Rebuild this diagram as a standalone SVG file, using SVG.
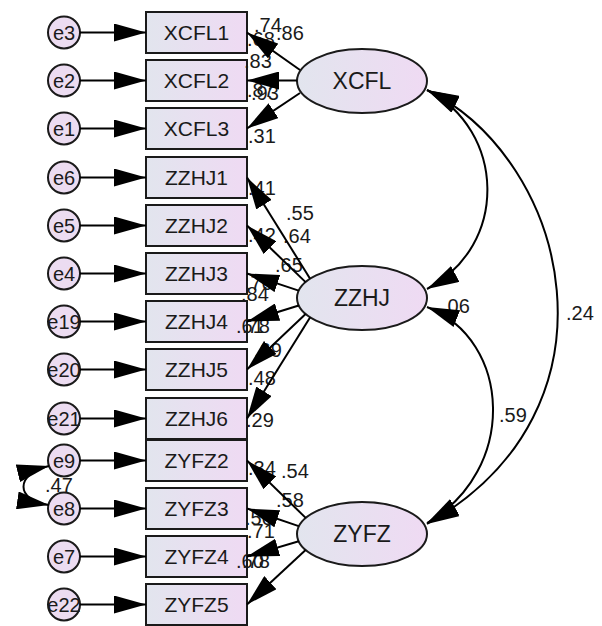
<svg xmlns="http://www.w3.org/2000/svg" width="602" height="626" viewBox="0 0 602 626">
<style>
text{font-family:"Liberation Sans",Arial,sans-serif;fill:#1a1a1a}
.box{fill:url(#g);stroke:#1a1a1a;stroke-width:2}
.lat{fill:url(#g);stroke:#1a1a1a;stroke-width:2}
.err{fill:#ecdcf1;stroke:#1a1a1a;stroke-width:2}
.bt{font-size:21px;text-anchor:middle}
.lt{font-size:23px;text-anchor:middle}
.et{font-size:20px;text-anchor:middle}
.n{font-size:20px}
.c path{fill:none;stroke:#000;stroke-width:2;marker-end:url(#ah)}
.c path.cov{marker-start:url(#ah)}
</style>
<defs>
<linearGradient id="g" x1="0" y1="0" x2="1" y2="0">
<stop offset="0" stop-color="#e2e5ee"/>
<stop offset="1" stop-color="#efdaf3"/>
</linearGradient>
<marker id="ah" viewBox="0 0 32 18" markerWidth="32" markerHeight="18" refX="32" refY="9" orient="auto-start-reverse" markerUnits="userSpaceOnUse">
<path d="M0,0 L32,9 L0,18 Z" fill="#000"/>
</marker>
</defs>
<rect width="602" height="626" fill="#fff"/>

<g id="XCFL1"><rect class="box" x="146" y="12" width="101" height="41"/><text class="bt" x="196.5" y="40">XCFL1</text></g>
<g id="XCFL2"><rect class="box" x="146" y="60" width="101" height="41"/><text class="bt" x="196.5" y="88">XCFL2</text></g>
<g id="XCFL3"><rect class="box" x="146" y="108" width="101" height="41"/><text class="bt" x="196.5" y="136">XCFL3</text></g>
<g id="ZZHJ1"><rect class="box" x="146" y="157" width="101" height="41"/><text class="bt" x="196.5" y="185">ZZHJ1</text></g>
<g id="ZZHJ2"><rect class="box" x="146" y="205" width="101" height="41"/><text class="bt" x="196.5" y="233">ZZHJ2</text></g>
<g id="ZZHJ3"><rect class="box" x="146" y="253" width="101" height="41"/><text class="bt" x="196.5" y="281">ZZHJ3</text></g>
<g id="ZZHJ4"><rect class="box" x="146" y="301" width="101" height="41"/><text class="bt" x="196.5" y="329">ZZHJ4</text></g>
<g id="ZZHJ5"><rect class="box" x="146" y="349" width="101" height="41"/><text class="bt" x="196.5" y="377">ZZHJ5</text></g>
<g id="ZZHJ6"><rect class="box" x="146" y="398" width="101" height="41"/><text class="bt" x="196.5" y="426">ZZHJ6</text></g>
<g id="ZYFZ2"><rect class="box" x="146" y="440" width="101" height="41"/><text class="bt" x="196.5" y="468">ZYFZ2</text></g>
<g id="ZYFZ3"><rect class="box" x="146" y="488" width="101" height="41"/><text class="bt" x="196.5" y="516">ZYFZ3</text></g>
<g id="ZYFZ4"><rect class="box" x="146" y="536" width="101" height="41"/><text class="bt" x="196.5" y="564">ZYFZ4</text></g>
<g id="ZYFZ5"><rect class="box" x="146" y="584" width="101" height="41"/><text class="bt" x="196.5" y="612">ZYFZ5</text></g>

<g id="e3"><circle class="err" cx="64" cy="32.5" r="16"/><text class="et" x="64" y="39.5">e3</text></g>
<g id="e2"><circle class="err" cx="64" cy="80.5" r="16"/><text class="et" x="64" y="87.5">e2</text></g>
<g id="e1"><circle class="err" cx="64" cy="128.5" r="16"/><text class="et" x="64" y="135.5">e1</text></g>
<g id="e6"><circle class="err" cx="64" cy="177.5" r="16"/><text class="et" x="64" y="184.5">e6</text></g>
<g id="e5"><circle class="err" cx="64" cy="225.5" r="16"/><text class="et" x="64" y="232.5">e5</text></g>
<g id="e4"><circle class="err" cx="64" cy="273.5" r="16"/><text class="et" x="64" y="280.5">e4</text></g>
<g id="e19"><circle class="err" cx="64" cy="321.5" r="16"/><text class="et" x="64" y="328.5">e19</text></g>
<g id="e20"><circle class="err" cx="64" cy="369.5" r="16"/><text class="et" x="64" y="376.5">e20</text></g>
<g id="e21"><circle class="err" cx="64" cy="418.5" r="16"/><text class="et" x="64" y="425.5">e21</text></g>
<g id="e9"><circle class="err" cx="64" cy="460.5" r="16"/><text class="et" x="64" y="467.5">e9</text></g>
<g id="e8"><circle class="err" cx="64" cy="508.5" r="16"/><text class="et" x="64" y="515.5">e8</text></g>
<g id="e7"><circle class="err" cx="64" cy="556.5" r="16"/><text class="et" x="64" y="563.5">e7</text></g>
<g id="e22"><circle class="err" cx="64" cy="604.5" r="16"/><text class="et" x="64" y="611.5">e22</text></g>

<g id="XCFL"><ellipse class="lat" cx="362" cy="81" rx="65" ry="32"/><text class="lt" x="362" y="89">XCFL</text></g>
<g id="ZZHJ"><ellipse class="lat" cx="362" cy="298" rx="65" ry="32"/><text class="lt" x="362" y="306">ZZHJ</text></g>
<g id="ZYFZ"><ellipse class="lat" cx="362" cy="534" rx="65" ry="32"/><text class="lt" x="362" y="542">ZYFZ</text></g>

<g id="labels" class="n">
<text class="n" x="254" y="32">.74</text>
<text class="n" x="276" y="40">.86</text>
<text class="n" x="247" y="46">.68</text>
<text class="n" x="244" y="68">.83</text>
<text class="n" x="247" y="97">.87</text>
<text class="n" x="251" y="100">.93</text>
<text class="n" x="248" y="143">.31</text>
<text class="n" x="248" y="195">.41</text>
<text class="n" x="286" y="220">.55</text>
<text class="n" x="248" y="242">.42</text>
<text class="n" x="283" y="243">.64</text>
<text class="n" x="275" y="272">.65</text>
<text class="n" x="245" y="290">.70</text>
<text class="n" x="241" y="301">.84</text>
<text class="n" x="236" y="333">.61</text>
<text class="n" x="242" y="333">.78</text>
<text class="n" x="254" y="357">.69</text>
<text class="n" x="248" y="385">.48</text>
<text class="n" x="246" y="427">.29</text>
<text class="n" x="248" y="475">.34</text>
<text class="n" x="281" y="478">.54</text>
<text class="n" x="276" y="507">.58</text>
<text class="n" x="245" y="525">.50</text>
<text class="n" x="247" y="538">.71</text>
<text class="n" x="236" y="568">.60</text>
<text class="n" x="242" y="568">.78</text>
<text class="n" x="45" y="492">.47</text>
<text class="n" x="442" y="313">.06</text>
<text class="n" x="499" y="422">.59</text>
<text class="n" x="566" y="320">.24</text>
</g>

<g id="connectors" class="c">
<path d="M80,32.5 L146,32.5"/>
<path d="M80,80.5 L146,80.5"/>
<path d="M80,128.5 L146,128.5"/>
<path d="M80,177.5 L146,177.5"/>
<path d="M80,225.5 L146,225.5"/>
<path d="M80,273.5 L146,273.5"/>
<path d="M80,321.5 L146,321.5"/>
<path d="M80,369.5 L146,369.5"/>
<path d="M80,418.5 L146,418.5"/>
<path d="M80,460.5 L146,460.5"/>
<path d="M80,508.5 L146,508.5"/>
<path d="M80,556.5 L146,556.5"/>
<path d="M80,604.5 L146,604.5"/>
<path d="M300,70 L247,32.5"/>
<path d="M297,80.5 L247,80.5"/>
<path d="M300,93 L247,128.5"/>
<path d="M310.1,278.7 L247,177.5"/>
<path d="M305.6,282.1 L247,225.5"/>
<path d="M298.7,290.6 L247,273.5"/>
<path d="M298.8,305.5 L247,321.5"/>
<path d="M305.6,313.9 L247,369.5"/>
<path d="M310.2,317.3 L247,418.5"/>
<path d="M305.7,517.9 L247,460.5"/>
<path d="M298.7,526.1 L247,508.5"/>
<path d="M298.8,541.2 L247,556.5"/>
<path d="M305.6,549.9 L247,604.5"/>
<path class="cov" d="M427,90 C505,130 510,245 427,289"/>
<path class="cov" d="M427,90 C570,160 630,410 427,524"/>
<path class="cov" d="M427,307 C512,340 518,470 427,523"/>
<path class="cov" d="M49,466 C15,474 15,500 49,505"/>
</g>
</svg>
